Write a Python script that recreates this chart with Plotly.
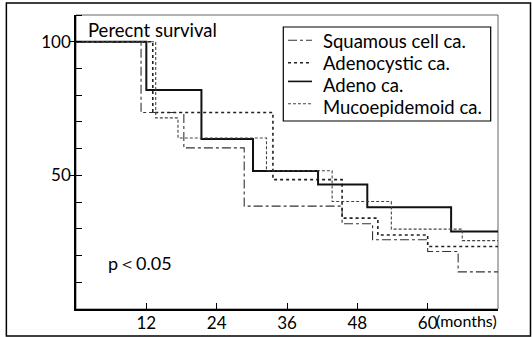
import plotly.graph_objects as go

# Survival step data (months, percent survival)
squamous_x = [0, 11.1, 18.4, 28.7, 45.4, 50.6, 60.0, 65.2, 72]
squamous_y = [100, 73.5, 60.3, 38.5, 31.9, 25.9, 21.5, 13.9, 13.9]

adenocystic_x = [0, 13.1, 33.6, 45.4, 51.5, 60.0, 72]
adenocystic_y = [100, 73.5, 48.4, 34.0, 27.7, 23.4, 23.4]

adeno_x = [0, 12.0, 21.4, 30.2, 41.3, 49.7, 64.0, 72]
adeno_y = [100, 81.9, 63.6, 51.6, 46.6, 38.1, 29.0, 29.0]

muco_x = [0, 13.6, 17.4, 32.5, 43.7, 53.8, 65.9, 72]
muco_y = [100, 71.5, 64.0, 51.7, 40.2, 29.9, 25.6, 25.6]

names = ["Squamous cell ca.", "Adenocystic ca.", "Adeno ca.", "Mucoepidemoid ca."]
x_ticks = [12, 24, 36, 48, 60]
x_ticktext = ["12", "24", "36", "48", "60"]
y_ticks = [50, 100]

FONT = "Lato"

styles = [
    dict(color="#333333", width=1.1, dash="dashdot"),
    dict(color="#222222", width=1.6, dash="dot"),
    dict(color="#111111", width=2.0, dash="solid"),
    dict(color="#444444", width=1.1, dash="3px,2px"),
]
data = [(squamous_x, squamous_y), (adenocystic_x, adenocystic_y),
        (adeno_x, adeno_y), (muco_x, muco_y)]

fig = go.Figure()
for (xs, ys), ln, nm in zip(data, styles, names):
    fig.add_trace(go.Scatter(x=xs, y=ys, mode="lines", name=nm,
                             line=dict(shape="hv", **ln), showlegend=False))

# hand-drawn legend (paper coordinates)
leg_text_y = [0.9116, 0.8367, 0.7619, 0.6871]
leg_line_y = [0.9139, 0.8377, 0.7741, 0.6980]
shapes = [
    dict(type="rect", xref="paper", yref="paper", x0=0, x1=1, y0=0, y1=1,
         line=dict(color="#666666", width=1), layer="below"),
    dict(type="rect", xref="paper", yref="paper",
         x0=-0.165, x1=1.077, y0=-0.092, y1=1.041,
         line=dict(color="black", width=1.5)),
    dict(type="rect", xref="paper", yref="paper",
         x0=0.4912, x1=0.9827, y0=0.6395, y1=0.9592,
         line=dict(color="black", width=1.2), fillcolor="white"),
]
annotations = []
for ln, nm, ty, ly in zip(styles, names, leg_text_y, leg_line_y):
    shapes.append(dict(type="line", xref="paper", yref="paper",
                       x0=0.5024, x1=0.5592, y0=ly, y1=ly,
                       line=dict(color=ln["color"], width=min(ln["width"], 1.6),
                                 dash=ln["dash"])))
    annotations.append(dict(text=nm, xref="paper", yref="paper", x=0.5799, y=ty,
                            xanchor="left", yanchor="middle", showarrow=False,
                            font=dict(family=FONT, size=18.5)))

annotations += [
    dict(text="Perecnt survival", xref="paper", yref="paper",
         x=0.023, y=0.948, xanchor="left", yanchor="middle",
         showarrow=False, font=dict(family=FONT, size=18.5)),
    dict(text="p＜0.05", xref="paper", yref="paper",
         x=0.072, y=0.157, xanchor="left", yanchor="middle",
         showarrow=False, font=dict(family=FONT, size=18)),
    dict(text="(months)", xref="x", yref="paper",
         x=61.0, y=-0.04, xanchor="left", yanchor="middle",
         showarrow=False, font=dict(family=FONT, size=16)),
]

fig.update_layout(
    width=532, height=337,
    margin=dict(l=76, r=34, t=15, b=28),
    paper_bgcolor="white", plot_bgcolor="white",
    font=dict(family=FONT, size=17, color="black"),
    showlegend=False,
    xaxis=dict(range=[0, 72], tickvals=x_ticks, ticktext=x_ticktext,
               ticks="inside", ticklen=6, tickcolor="black",
               showline=True, linecolor="black", linewidth=1.5,
               showgrid=False, zeroline=False, ticklabelstandoff=-2,
               automargin=False,
               tickfont=dict(family=FONT, size=17)),
    yaxis=dict(range=[0, 110], tickvals=y_ticks,
               ticks="outside", ticklen=4, tickcolor="black",
               showline=True, linecolor="black", linewidth=1.5,
               showgrid=False, zeroline=False, ticklabelstandoff=-4,
               automargin=False,
               minor=dict(dtick=10, tick0=0, ticks="inside", ticklen=6,
                          tickcolor="black", showgrid=False),
               tickfont=dict(family=FONT, size=17)),
    shapes=shapes,
    annotations=annotations,
)

fig.write_html("out.html", config={"displayModeBar": False},
               post_script="document.body.style.margin='0px';")
